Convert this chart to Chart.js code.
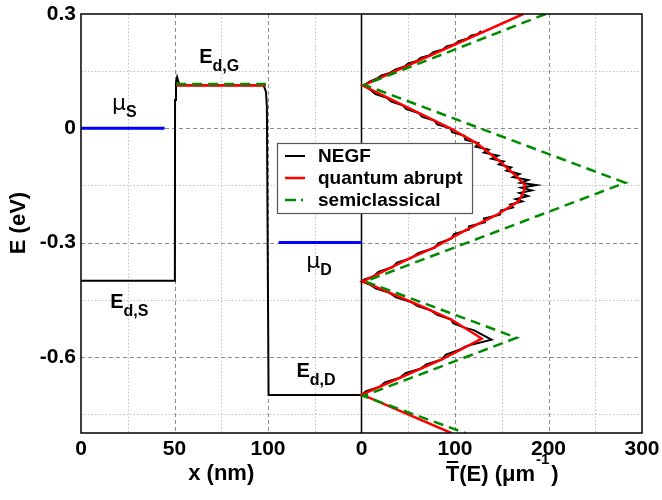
<!DOCTYPE html>
<html>
<head>
<meta charset="utf-8">
<script src="https://cdn.jsdelivr.net/npm/chart.js@4.4.1/dist/chart.umd.min.js"></script>
<style>
html, body { margin: 0; padding: 0; background: #fff; }
canvas { display: block; }
</style>
</head>
<body>
<canvas id="grafico" width="662" height="500"></canvas>
<script>
// perfil de banda (painel esquerdo, x em nm, E em eV)
const perfilX = [0, 50.2, 50.3, 50.8, 51.4, 52.6, 97.6, 98.9, 99.4, 100.3, 150];
const perfilNEGF = [-0.4, -0.4, 0.074, 0.12, 0.134, 0.113, 0.113, 0.096, 0.057, -0.7, -0.7];
const canalX = [50.9, 98.9];
const canalAbrupto = [0.112, 0.112];
const canalSemi = [0.116, 0.116];
const muSX = [0, 44.7];
const muSE = [0, 0];
const muDX = [105.7, 150];
const muDE = [-0.3, -0.3];

// transmissão (painel direito, T em 1/um)
const eNEGF = [0.255, 0.247, 0.243, 0.235, 0.229, 0.221, 0.215, 0.207, 0.200, 0.192, 0.185, 0.177,
  0.170, 0.162, 0.154, 0.146, 0.138, 0.130, 0.122, 0.116, 0.110, 0.100, 0.090, 0.080, 0.070, 0.060,
  0.050, 0.040, 0.030, 0.020, 0.010, 0.000, -0.010, -0.020, -0.030, -0.039, -0.048, -0.056, -0.064,
  -0.072, -0.080, -0.087, -0.095, -0.103, -0.111, -0.120, -0.128, -0.136, -0.143, -0.149, -0.156,
  -0.163, -0.170, -0.178, -0.186, -0.192, -0.200, -0.208, -0.216, -0.227, -0.237, -0.247, -0.257,
  -0.266, -0.278, -0.290, -0.302, -0.314, -0.327, -0.341, -0.353, -0.365, -0.377, -0.389, -0.397,
  -0.402, -0.410, -0.420, -0.432, -0.444, -0.456, -0.467, -0.478, -0.490, -0.502, -0.512, -0.524,
  -0.530, -0.555, -0.572, -0.580, -0.595, -0.607, -0.619, -0.631, -0.643, -0.655, -0.667, -0.679,
  -0.690, -0.700];
const tNEGF = [128, 124, 117, 113, 104, 100, 91, 87, 77, 73, 63, 59.5,
  50, 46, 36, 31, 21, 16, 8, 5, 4, 10, 15, 27, 32, 44,
  48, 61, 65, 78, 81, 95, 97, 110, 111, 125, 122, 136, 131,
  146, 139, 152, 147, 160, 155, 169, 162, 178, 170, 187, 171,
  182, 169, 178, 165, 172, 159, 162, 149, 148, 131, 132, 115,
  115, 99, 96, 82, 78, 61, 53, 38, 33, 18, 13, 3,
  0, 9, 15, 30, 37, 53, 60, 74, 81, 96, 98, 111,
  120, 139, 112, 106, 90, 86, 70, 63, 47, 41, 25, 19,
  5, 0];
const eAbrupto = [0.3, 0.112, 0, -0.039, -0.087, -0.12, -0.149, -0.17, -0.192, -0.227, -0.266,
  -0.314, -0.341, -0.402, -0.467, -0.502, -0.552, -0.607, -0.699, -0.8];
const tAbrupto = [173, 1.5, 95, 123, 148, 163, 175, 173, 168, 145, 112.5,
  77, 52, 1.5, 64, 96, 128.6, 86, 0.5, 96];
const eSemi = [0.3, 0.114, -0.143, -0.402, -0.55, -0.703, -0.8];
const tSemi = [197, 3, 282, 4, 166, 2, 111];

// eixos
const xTicksNm = [0, 50, 100];
const xTicksT = [0, 100, 200, 300];
const yTicks = [-0.6, -0.3, 0, 0.3];
const gradeNm = [50, 100];
const gradeT = [100, 200];
const gradeMenorNm = [25, 75, 125];
const gradeMenorT = [50, 150, 250];
const gradeMenorE = [0.15, -0.15, -0.45, -0.75];

// os dois painéis dividem um eixo x só: 0..300 = 0..150 nm, 300..600 = T de 0 a 300
const deNm = v => v * 2;
const deT = v => 300 + v;

const FONTE = "'Liberation Sans', Arial, Helvetica, sans-serif";
const VERDE = '#008c00';

function pontos(xs, ys, fx) {
  return xs.map((v, i) => ({ x: fx(v), y: ys[i] }));
}

const rotulosX = new Map();
xTicksNm.forEach(v => rotulosX.set(deNm(v), String(v)));
xTicksT.forEach(v => rotulosX.set(deT(v), String(v)));

function textoSub(ctx, base, sub, x, y, fBase, fSub, dy) {
  ctx.font = fBase;
  ctx.fillText(base, x, y);
  const w = ctx.measureText(base).width;
  ctx.font = fSub;
  ctx.fillText(sub, x + w, y + dy);
}

const grade = {
  id: 'grade',
  beforeDatasetsDraw(chart) {
    const { ctx, chartArea: a, scales: { x, y } } = chart;
    const px = v => Math.round(v) + 0.5;
    const vline = u => { const p = px(x.getPixelForValue(u)); ctx.beginPath(); ctx.moveTo(p, a.top); ctx.lineTo(p, a.bottom); ctx.stroke(); };
    const hline = e => { const p = px(y.getPixelForValue(e)); ctx.beginPath(); ctx.moveTo(a.left, p); ctx.lineTo(a.right, p); ctx.stroke(); };
    ctx.save();
    ctx.lineWidth = 1;
    // grade menor pontilhada
    ctx.strokeStyle = '#c0c0c0';
    ctx.setLineDash([1.5, 2]);
    gradeMenorNm.forEach(v => vline(deNm(v)));
    gradeMenorT.forEach(v => vline(deT(v)));
    gradeMenorE.forEach(hline);
    // grade maior tracejada
    ctx.strokeStyle = '#8c8c8c';
    ctx.setLineDash([4, 3]);
    gradeNm.forEach(v => vline(deNm(v)));
    gradeT.forEach(v => vline(deT(v)));
    yTicks.filter(v => v < 0.3).forEach(hline);
    // divisória entre os painéis
    ctx.setLineDash([]);
    ctx.strokeStyle = '#000';
    ctx.lineWidth = 1.5;
    const d = x.getPixelForValue(deT(0));
    ctx.beginPath(); ctx.moveTo(d, a.top); ctx.lineTo(d, a.bottom); ctx.stroke();
    ctx.restore();
  },
  afterDatasetsDraw(chart) {
    const { ctx, chartArea: a, scales: { x, y } } = chart;
    ctx.save();
    // moldura
    ctx.strokeStyle = '#000';
    ctx.lineWidth = 1.5;
    ctx.strokeRect(a.left, a.top, a.right - a.left, a.bottom - a.top);

    // rótulos das bandas
    ctx.fillStyle = '#000';
    ctx.textAlign = 'left';
    ctx.textBaseline = 'alphabetic';
    const fE = 'bold 20px ' + FONTE, fSub = 'bold 16px ' + FONTE;
    const fMu = "22px 'DejaVu Sans', sans-serif";
    const P = (n, e) => [x.getPixelForValue(deNm(n)), y.getPixelForValue(e)];
    let p;
    p = P(16.6, 0.048);  textoSub(ctx, 'μ', 'S', p[0], p[1], fMu, fSub, 7);
    p = P(63.2, 0.171);  textoSub(ctx, 'E', 'd,G', p[0], p[1], fE, fSub, 8);
    p = P(15.6, -0.471); textoSub(ctx, 'E', 'd,S', p[0], p[1], fE, fSub, 8);
    p = P(120.5, -0.366); textoSub(ctx, 'μ', 'D', p[0], p[1], fMu, fSub, 7);
    p = P(115.2, -0.654); textoSub(ctx, 'E', 'd,D', p[0], p[1], fE, fSub, 8);

    // legenda
    const itens = chart.data.datasets.filter(ds => ds.legenda).sort((a, b) => a.posLegenda - b.posLegenda);
    ctx.fillStyle = '#fff';
    ctx.fillRect(277.5, 143.5, 195, 70);
    ctx.strokeStyle = '#555';
    ctx.lineWidth = 1.2;
    ctx.strokeRect(277.5, 143.5, 195, 70);
    ctx.font = 'bold 19px ' + FONTE;
    ctx.textBaseline = 'middle';
    itens.forEach((ds, i) => {
      const yy = 156 + i * 22;
      ctx.strokeStyle = ds.borderColor;
      ctx.lineWidth = ds.borderWidth;
      ctx.setLineDash(ds.legenda === 'traco-ponto' ? [11, 5, 2, 20] : []);
      ctx.beginPath(); ctx.moveTo(285, yy); ctx.lineTo(305, yy); ctx.stroke();
      ctx.fillStyle = '#000';
      ctx.fillText(ds.label, 318, yy + 1);
    });
    ctx.restore();
  },
  afterDraw(chart) {
    const { ctx, scales: { x } } = chart;
    ctx.save();
    ctx.fillStyle = '#000';
    ctx.strokeStyle = '#000';
    const fT = 'bold 22px ' + FONTE;
    // eixo y
    ctx.font = fT;
    ctx.textAlign = 'center';
    ctx.textBaseline = 'middle';
    ctx.translate(19, 223);
    ctx.rotate(-Math.PI / 2);
    ctx.fillText('E (eV)', 0, 0);
    ctx.restore();
    ctx.save();
    ctx.fillStyle = '#000';
    ctx.strokeStyle = '#000';
    ctx.font = fT;
    ctx.textAlign = 'center';
    ctx.textBaseline = 'alphabetic';
    ctx.fillText('x (nm)', x.getPixelForValue(deNm(75)), 480);
    // título do painel direito: T com barra, (μm^-1)
    ctx.textAlign = 'left';
    const fSup = 'bold 15px ' + FONTE;
    const partes = ['T(E) (μm', '-1', ')'];
    ctx.font = fT; const w0 = ctx.measureText(partes[0]).width;
    ctx.font = fSup; const w1 = ctx.measureText(partes[1]).width + 2;
    ctx.font = fT; const w2 = ctx.measureText(partes[2]).width;
    let xx = x.getPixelForValue(deT(150)) - (w0 + w1 + w2) / 2;
    const yb = 481;
    ctx.font = fT;
    ctx.fillText(partes[0], xx, yb);
    const wT = ctx.measureText('T').width;
    ctx.lineWidth = 2;
    ctx.beginPath(); ctx.moveTo(xx + 1, yb - 19); ctx.lineTo(xx + wT - 1, yb - 19); ctx.stroke();
    xx += w0 + 1;
    ctx.font = fSup;
    ctx.fillText(partes[1], xx, yb - 17);
    xx += w1;
    ctx.font = fT;
    ctx.fillText(partes[2], xx, yb);
    ctx.restore();
  }
};

const linha = (label, data, cor, largura, extra) => Object.assign({
  label, data, borderColor: cor, backgroundColor: cor, borderWidth: largura,
  showLine: true, pointRadius: 0, tension: 0, fill: false
}, extra || {});

new Chart(document.getElementById('grafico'), {
  type: 'scatter',
  data: {
    datasets: [
      linha('NEGF', pontos(tNEGF, eNEGF, deT), '#000', 2, { order: 3, legenda: 'linha', posLegenda: 1 }),
      linha('quantum abrupt', pontos(tAbrupto, eAbrupto, deT), '#ff0000', 2.5, { order: 2, legenda: 'linha', posLegenda: 2 }),
      linha('semiclassical', pontos(tSemi, eSemi, deT), VERDE, 2.5, { borderDash: [10, 6], order: 1, legenda: 'traco-ponto', posLegenda: 3 }),
      linha('NEGF perfil', pontos(perfilX, perfilNEGF, deNm), '#000', 2, { order: 6 }),
      linha('quantum abrupt canal', pontos(canalX, canalAbrupto, deNm), '#ff0000', 2.5, { order: 5 }),
      linha('semiclassical canal', pontos(canalX, canalSemi, deNm), VERDE, 2.5, { borderDash: [10, 6], order: 4 }),
      linha('mu S', pontos(muSX, muSE, deNm), '#0000ff', 3, { order: 7 }),
      linha('mu D', pontos(muDX, muDE, deNm), '#0000ff', 3, { order: 8 })
    ]
  },
  options: {
    responsive: false,
    animation: false,
    layout: { padding: { top: 14, right: 20, left: 0, bottom: 0 } },
    plugins: { legend: { display: false }, tooltip: { enabled: false } },
    scales: {
      x: {
        type: 'linear', min: 0, max: 600,
        grid: { display: false, drawTicks: false },
        border: { display: false },
        afterBuildTicks: s => { s.ticks = [...rotulosX.keys()].sort((a, b) => a - b).map(v => ({ value: v })); },
        afterFit: s => { s.height = 67; s.paddingLeft = 0; s.paddingRight = 0; },
        ticks: {
          autoSkip: false, maxRotation: 0, padding: 4, color: '#000',
          font: { family: FONTE, size: 21, weight: 'bold' },
          callback: v => rotulosX.get(v) ?? ''
        }
      },
      y: {
        type: 'linear', min: -0.8, max: 0.3,
        grid: { display: false, drawTicks: false },
        border: { display: false },
        afterBuildTicks: s => { s.ticks = yTicks.map(v => ({ value: v })); },
        afterFit: s => { s.width = 81; s.paddingTop = 0; s.paddingBottom = 0; },
        ticks: {
          padding: 5, color: '#000',
          font: { family: FONTE, size: 21, weight: 'bold' },
          callback: v => v === 0 ? '0' : v.toFixed(1)
        }
      }
    }
  },
  plugins: [grade]
});
</script>
</body>
</html>
